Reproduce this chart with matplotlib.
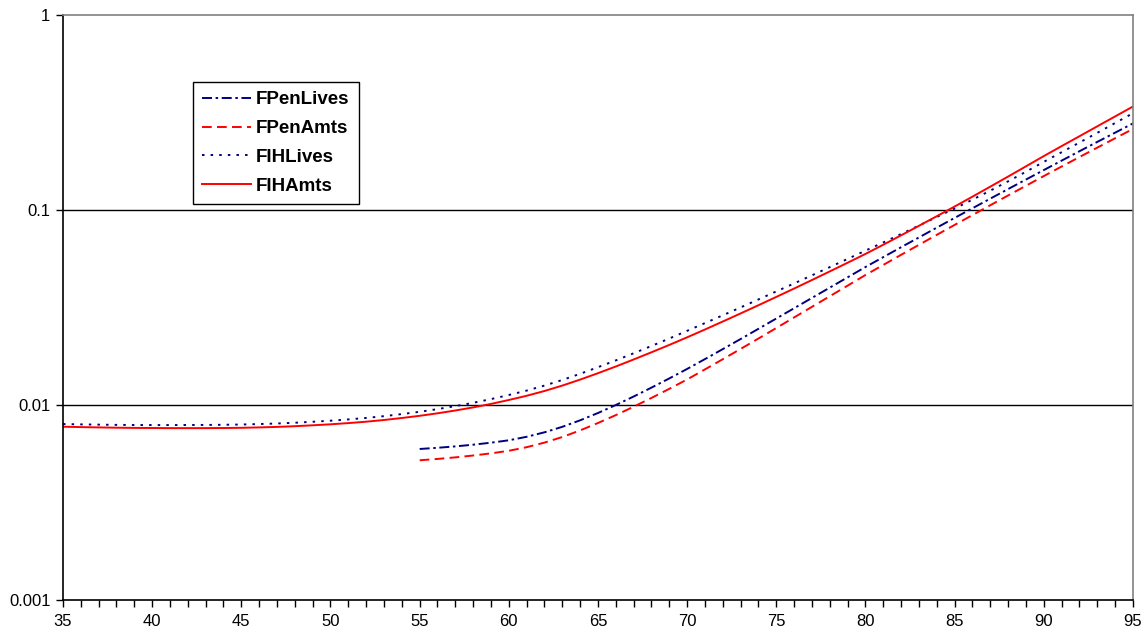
import matplotlib
matplotlib.use("Agg")
import matplotlib.pyplot as plt
from matplotlib.ticker import FixedLocator, MultipleLocator, FixedFormatter

plt.rcParams["font.family"] = ["Liberation Sans", "DejaVu Sans"]
plt.rcParams["lines.scale_dashes"] = False

# Mortality rates by age
ages_fih = list(range(35, 96))
ages_fpen = list(range(55, 96))

fih_lives = [
    0.007986, 0.007954, 0.007931, 0.007908, 0.007895, 0.007891, 0.007891, 0.007896,
    0.007902, 0.007918, 0.007942, 0.007986, 0.008039, 0.008111, 0.008204, 0.008308,
    0.008435, 0.008584, 0.008766, 0.008984, 0.009228, 0.009527, 0.009870, 0.010262,
    0.010721, 0.011255, 0.011856, 0.012578, 0.013440, 0.014457, 0.015629, 0.016937,
    0.018421, 0.020081, 0.021926, 0.024015, 0.026305, 0.028848, 0.031655, 0.034794,
    0.038245, 0.042027, 0.046248, 0.050964, 0.056133, 0.061904, 0.068195, 0.075330,
    0.083280, 0.092080, 0.101770, 0.113020, 0.125720, 0.140320, 0.157150, 0.176580,
    0.197920, 0.221860, 0.248840, 0.279350, 0.313660,
]

fih_amts = [
    0.007739, 0.007703, 0.007675, 0.007648, 0.007630, 0.007621, 0.007611, 0.007611,
    0.007611, 0.007621, 0.007639, 0.007675, 0.007721, 0.007785, 0.007868, 0.007962,
    0.008076, 0.008211, 0.008377, 0.008577, 0.008802, 0.009066, 0.009371, 0.009720,
    0.010130, 0.010610, 0.011150, 0.011800, 0.012580, 0.013500, 0.014560, 0.015760,
    0.017120, 0.018640, 0.020330, 0.022240, 0.024390, 0.026810, 0.029490, 0.032490,
    0.035840, 0.039570, 0.043750, 0.048440, 0.053670, 0.059540, 0.066370, 0.074180,
    0.082990, 0.092950, 0.104200, 0.117100, 0.131800, 0.148500, 0.167500, 0.189100,
    0.212700, 0.239000, 0.268700, 0.302000, 0.339500,
]

fpen_lives = [
    0.005949, 0.006033, 0.006134, 0.006258, 0.006408, 0.006592, 0.006870, 0.007244,
    0.007730, 0.008347, 0.009099, 0.010000, 0.011055, 0.012280, 0.013689, 0.015311,
    0.017199, 0.019352, 0.021800, 0.024594, 0.027772, 0.031361, 0.035422, 0.040000,
    0.045170, 0.051020, 0.057340, 0.064460, 0.072360, 0.081220, 0.091100, 0.102100,
    0.114400, 0.128100, 0.143300, 0.160300, 0.179200, 0.200200, 0.223500, 0.249300,
    0.278000,
]

fpen_amts = [
    0.005206, 0.005289, 0.005388, 0.005508, 0.005650, 0.005823, 0.006076, 0.006415,
    0.006853, 0.007409, 0.008085, 0.008876, 0.009800, 0.010874, 0.012107, 0.013526,
    0.015230, 0.017177, 0.019395, 0.021933, 0.024825, 0.028134, 0.031887, 0.036136,
    0.040951, 0.046423, 0.052294, 0.058930, 0.066303, 0.074601, 0.083876, 0.094218,
    0.105820, 0.118770, 0.133180, 0.149340, 0.167140, 0.186950, 0.208950, 0.233350,
    0.260510,
]

y_ticks = [0.001, 0.01, 0.1, 1]
y_tick_labels = ["0.001", "0.01", "0.1", "1"]
x_ticks = list(range(35, 96, 5))

navy = "#000080"
red = "#FF0000"

fig = plt.figure(figsize=(11.47, 6.34), dpi=100)
ax = fig.add_axes([63 / 1147, 1 - 600 / 634, (1133 - 63) / 1147, (600 - 15) / 634])

lw = 1.4
ax.plot(ages_fpen, fpen_lives, color=navy, lw=lw, linestyle=(0, (7.2, 2.6, 1.8, 2.6)),
        label="FPenLives")
ax.plot(ages_fpen, fpen_amts, color=red, lw=lw, linestyle=(0, (7.0, 3.8)),
        label="FPenAmts")
ax.plot(ages_fih, fih_lives, color=navy, lw=lw, linestyle=(0, (1.8, 4.4)),
        label="FIHLives")
ax.plot(ages_fih, fih_amts, color=red, lw=lw, linestyle="-", label="FIHAmts")

ax.set_yscale("log")
ax.set_ylim(0.001, 1)
ax.set_xlim(35, 95)

ax.yaxis.set_major_locator(FixedLocator(y_ticks))
ax.yaxis.set_major_formatter(FixedFormatter(y_tick_labels))
ax.yaxis.set_minor_locator(FixedLocator([]))
ax.xaxis.set_major_locator(FixedLocator(x_ticks))
ax.xaxis.set_minor_locator(MultipleLocator(1))

ax.tick_params(axis="both", which="both", direction="out", colors="black",
               labelsize=12, width=1.0)
ax.tick_params(axis="y", which="major", length=5, pad=4)
ax.tick_params(axis="x", which="major", length=5, pad=5)
ax.tick_params(axis="x", which="minor", length=5)

# horizontal gridlines at the inner decades
for yv in y_ticks[1:-1]:
    ax.axhline(yv, color="black", lw=1.0, zorder=1)

ax.spines["left"].set_color("black")
ax.spines["bottom"].set_color("black")
ax.spines["top"].set_color("#808080")
ax.spines["right"].set_color("#808080")
for s in ax.spines.values():
    s.set_linewidth(1.2)

leg = ax.legend(loc="upper left", bbox_to_anchor=((193 - 63) / 1070, (600 - 82) / 585),
                borderaxespad=0, frameon=True, fancybox=False, edgecolor="black",
                framealpha=1, borderpad=0.5, handlelength=2.6, handletextpad=0.25,
                labelspacing=0.62, prop={"weight": "bold", "size": 13.5})
leg.get_frame().set_linewidth(1.0)

fig.savefig("out.png", dpi=100)
